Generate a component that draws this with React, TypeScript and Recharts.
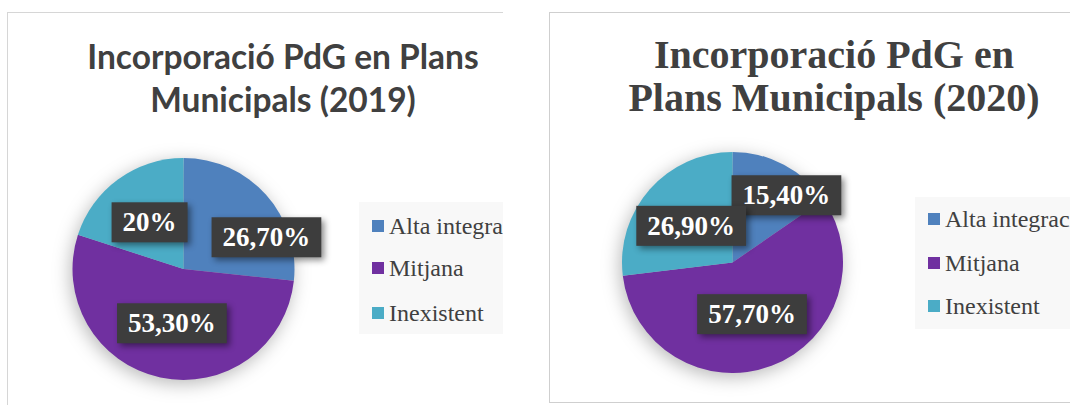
import React from 'react';
import { PieChart, Pie, Cell, Legend } from 'recharts';

const categories = ['Alta integració', 'Mitjana', 'Inexistent'];
const values2019 = [26.7, 53.3, 20];
const values2020 = [15.4, 57.7, 26.9];
const colors = ['#4F81BD', '#7030A0', '#4BACC6'];
const title2019 = ['Incorporació PdG en Plans', 'Municipals (2019)'];
const title2020 = ['Incorporació PdG en', 'Plans Municipals (2020)'];

const placement2019 = [
  { r: 0.8, shift: -21 },
  { r: 0.5, shift: 0 },
  { r: 0.52, shift: 0 },
];
const placement2020 = [
  { r: 0.78, shift: -11 },
  { r: 0.5, shift: 0 },
  { r: 0.5, shift: 0 },
];

const RADIAN = Math.PI / 180;
const SERIF = '"Liberation Serif", "Times New Roman", serif';

const fmt = (v: number) =>
  Number.isInteger(v) ? `${v}%` : `${v.toFixed(2).replace('.', ',')}%`;

const charW: Record<string, number> = { ',': 0.25, '%': 1.0 };
const textWidth = (s: string, fs: number) =>
  s.split('').reduce((a, c) => a + (charW[c] ?? 0.5), 0) * fs;

const makeLabel = (placement: { r: number; shift: number }[]) => (props: any) => {
  const { cx, cy, midAngle, outerRadius, index, value } = props;
  const p = placement[index];
  const ang = (midAngle + p.shift) * RADIAN;
  const rr = outerRadius * p.r;
  const x = cx + rr * Math.cos(-ang);
  const y = cy + rr * Math.sin(-ang);
  const txt = fmt(value);
  const fs = 27;
  const w = textWidth(txt, fs) + 22;
  const h = 40;
  return (
    <g>
      <rect
        x={x - w / 2}
        y={y - h / 2}
        width={w}
        height={h}
        fill="#3d3d3d"
        style={{ filter: 'drop-shadow(3px 3px 3px rgba(0,0,0,0.45))' }}
      />
      <text
        x={x}
        y={y}
        textAnchor="middle"
        dominantBaseline="central"
        fill="#ffffff"
        fontFamily={SERIF}
        fontWeight="bold"
        fontSize={fs}
      >
        {txt}
      </text>
    </g>
  );
};

const legendContent = (rowCenters: number[]) => () => {
  return (
    <div style={{ position: 'relative', width: 170, height: 132, background: '#f8f8f8' }}>
      {categories.map((name, i) => (
        <div
          key={name}
          style={{
            position: 'absolute',
            left: 13,
            top: rowCenters[i] - 14,
            height: 28,
            display: 'flex',
            alignItems: 'center',
            whiteSpace: 'nowrap',
          }}
        >
          <span style={{ display: 'inline-block', width: 12, height: 12, background: colors[i], marginRight: 5 }} />
          <span style={{ fontFamily: SERIF, fontSize: 24, color: '#404040' }}>{name}</span>
        </div>
      ))}
    </div>
  );
};

const ChartPanel = (props: {
  values: number[];
  placement: { r: number; shift: number }[];
  cx: number;
  cy: number;
  radius: number;
  legendLeft: number;
  legendTop: number;
  rows: number[];
  width: number;
  height: number;
}) => {
  const data = categories.map((name, i) => ({ name, value: props.values[i] }));
  return (
    <PieChart width={props.width} height={props.height} margin={{ top: 0, right: 0, bottom: 0, left: 0 }}>
      <Pie
        data={data}
        dataKey="value"
        nameKey="name"
        cx={props.cx}
        cy={props.cy}
        outerRadius={props.radius}
        startAngle={90}
        endAngle={-270}
        stroke="none"
        isAnimationActive={false}
        labelLine={false}
        label={makeLabel(props.placement)}
      >
        {data.map((d, i) => (
          <Cell key={d.name} fill={colors[i]} />
        ))}
      </Pie>
      <Legend
        layout="vertical"
        content={legendContent(props.rows)}
        wrapperStyle={{ position: 'absolute', left: props.legendLeft, top: props.legendTop, width: 170, height: 132 }}
      />
    </PieChart>
  );
};

export default function App() {
  return (
    <div
      style={{
        position: 'absolute',
        left: 0,
        top: 0,
        width: 1070,
        height: 405,
        overflow: 'hidden',
        background: '#ffffff',
      }}
    >
      <style>{`g:has(> .recharts-pie-sector) { filter: drop-shadow(-2px 4px 9px rgba(0,0,0,0.28)); }`}</style>

      {/* Left panel 2019 */}
      <div style={{ position: 'absolute', left: 7, top: 12, width: 496, height: 393, overflow: 'hidden' }}>
        <div style={{ position: 'absolute', left: 0, top: 0, width: 496, height: 1, background: '#d6d6d6' }} />
        <div style={{ position: 'absolute', left: 0, top: 0, width: 1, height: 393, background: '#d6d6d6' }} />
        <div
          style={{
            position: 'absolute',
            left: 283 - 7 - 260,
            top: 23,
            width: 520,
            textAlign: 'center',
            fontFamily: 'Lato, "Open Sans", sans-serif',
            fontWeight: 700,
            fontSize: 33.5,
            lineHeight: '43px',
            color: '#404040',
          }}
        >
          <div>{title2019[0]}</div>
          <div>{title2019[1]}</div>
        </div>
        <div style={{ position: 'absolute', left: 0, top: 0 }}>
          <ChartPanel
            values={values2019}
            placement={placement2019}
            cx={176.5}
            cy={257}
            radius={111}
            legendLeft={352}
            legendTop={190}
            rows={[24, 66, 111]}
            width={496}
            height={393}
          />
        </div>
      </div>

      {/* Right panel 2020 */}
      <div style={{ position: 'absolute', left: 549, top: 12, width: 530, height: 391, overflow: 'hidden' }}>
        <div style={{ position: 'absolute', left: 0, top: 0, width: 530, height: 1, background: '#cfcfcf' }} />
        <div style={{ position: 'absolute', left: 0, top: 0, width: 1, height: 391, background: '#cfcfcf' }} />
        <div style={{ position: 'absolute', left: 0, top: 390, width: 530, height: 1, background: '#cfcfcf' }} />
        <div
          style={{
            position: 'absolute',
            left: 834 - 549 - 260,
            top: 21,
            width: 520,
            textAlign: 'center',
            fontFamily: SERIF,
            fontWeight: 700,
            fontSize: 40,
            lineHeight: '43px',
            color: '#404040',
          }}
        >
          <div>{title2020[0]}</div>
          <div>{title2020[1]}</div>
        </div>
        <div style={{ position: 'absolute', left: 0, top: 0 }}>
          <ChartPanel
            values={values2020}
            placement={placement2020}
            cx={183.5}
            cy={250.5}
            radius={110.5}
            legendLeft={366}
            legendTop={185}
            rows={[22, 66, 109]}
            width={530}
            height={391}
          />
        </div>
      </div>
    </div>
  );
}
